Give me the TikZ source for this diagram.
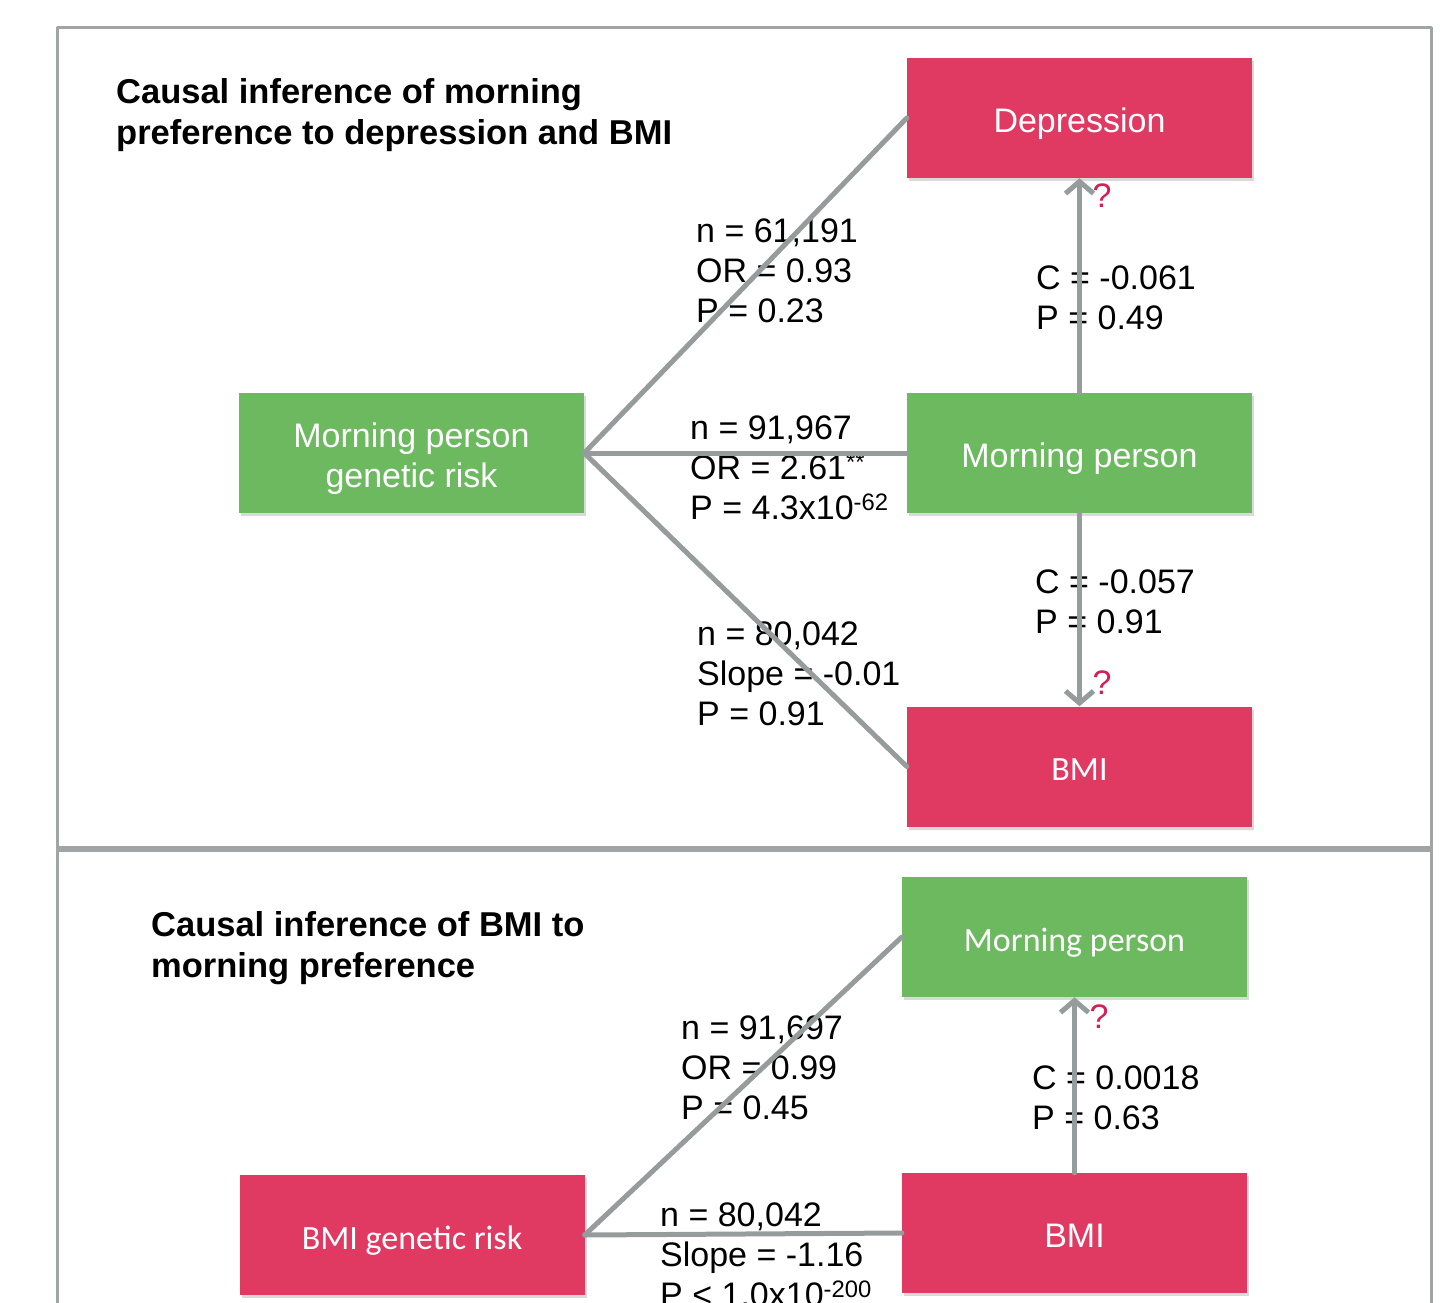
\documentclass[tikz,border=0pt]{standalone}
\usepackage{fontspec}
\setmainfont{Liberation Sans}
\newfontfamily\calfont{Carlito}
\usetikzlibrary{arrows.meta,shadows}
\definecolor{boxred}{RGB}{224,58,98}
\definecolor{boxgreen}{RGB}{108,185,96}
\definecolor{linkgray}{RGB}{150,156,156}
\definecolor{framegray}{RGB}{160,164,164}
\definecolor{qred}{RGB}{214,30,84}
\newcommand\boxstrut{\rule[-9pt]{0pt}{46pt}}
\begin{document}
\begin{tikzpicture}[x=1pt, y=-1pt, >={Straight Barb[length=12pt,width=28pt]}, line join=round, line cap=round,
		box/.style={minimum width=345pt, minimum height=120pt, inner sep=0pt, text=white, align=center,
			font=\fontsize{34}{40}\selectfont, drop shadow={shadow xshift=2pt, shadow yshift=-3pt, opacity=0.3}},
		link/.style={draw=linkgray, line width=5pt},
		stat/.style={anchor=north west, inner sep=0pt, align=left, font=\fontsize{34}{40}\selectfont},
		title/.style={anchor=north west, inner sep=0pt, align=left, font=\fontsize{34.5}{41}\selectfont\bfseries},
		qmark/.style={text=qred, inner sep=0pt, font=\fontsize{34}{40}\selectfont}]
	\def\W{1451} \def\H{1303}
	\def\fl{57} \def\fr{1431} % frame
	\useasboundingbox (0,0) rectangle (\W,\H);
	\clip (0,0) rectangle (\W,\H);
	% frame
	\draw[framegray, line width=3pt, line cap=butt] (\fl,\H+10)--(\fl,28)--(\fr,28)--(\fr,\H+10);
	\draw[framegray, line width=6pt, line cap=butt] (\fl,849)--(\fr,849);
	% top panel
	\node at (116,78.5) [title]{Causal inference of morning\\preference to depression and BMI};
	\node (dep) at (1079.5,118) [box, fill=boxred]{\boxstrut Depression};
	\node (mpg) at (411.5,453) [box, fill=boxgreen]{\boxstrut Morning person\\genetic risk};
	\node (mp) at (1079.5,453) [box, fill=boxgreen]{\boxstrut Morning person};
	\node (bmi) at (1079.5,766.5) [box, fill=boxred, font=\fontsize{34}{40}\calfont]{\boxstrut BMI};
	\node (s1) at (696,219) [stat]{n = 61,191\\OR = 0.93\\P = 0.23};
	\node (s2) at (690,415.5) [stat]{n = 91,967\\OR = 2.61\textsuperscript{**}\\P = 4.3x10\textsuperscript{-62}};
	\node (s3) at (697,622) [stat]{n = 80,042\\Slope = -0.01\\P = 0.91};
	\node (c1) at (1036,265.5) [stat]{C = -0.061\\P = 0.49};
	\node (c2) at (1035,570) [stat]{C = -0.057\\P = 0.91};
	\node (q1) at (1102,196) [qmark]{?};
	\node (q2) at (1102,683) [qmark]{?};
	\draw[link] (mpg.east)--(dep.west);
	\draw[link] (mpg.east)--(mp.west);
	\draw[link] (mpg.east)--(bmi.west);
	\draw[link,->] (mp.north)--(dep.south);
	\draw[link,->] (mp.south)--(bmi.north);
	% bottom panel
	\node at (151,911) [title]{Causal inference of BMI to\\morning preference};
	\node (mp2) at (1074.5,937) [box, fill=boxgreen, font=\fontsize{34}{40}\calfont]{\boxstrut Morning person};
	\node (bgr) at (412,1235) [box, fill=boxred, font=\fontsize{34}{40}\calfont]{\boxstrut BMI genetic risk};
	\node (bmi2) at (1074.5,1233) [box, fill=boxred]{\boxstrut BMI};
	\node (s4) at (681,1015.5) [stat]{n = 91,697\\OR = 0.99\\P = 0.45};
	\node (s5) at (660,1203) [stat]{n = 80,042\\Slope = -1.16\\P {\textless} 1.0x10\textsuperscript{-200}};
	\node (c3) at (1032,1065.5) [stat]{C = 0.0018\\P = 0.63};
	\node (q3) at (1099,1017) [qmark]{?};
	\draw[link] (bgr.east)--(mp2.west);
	\draw[link] (bgr.east)--(bmi2.west);
	\draw[link,->] (bmi2.north)--(mp2.south);
\end{tikzpicture}
\end{document}
